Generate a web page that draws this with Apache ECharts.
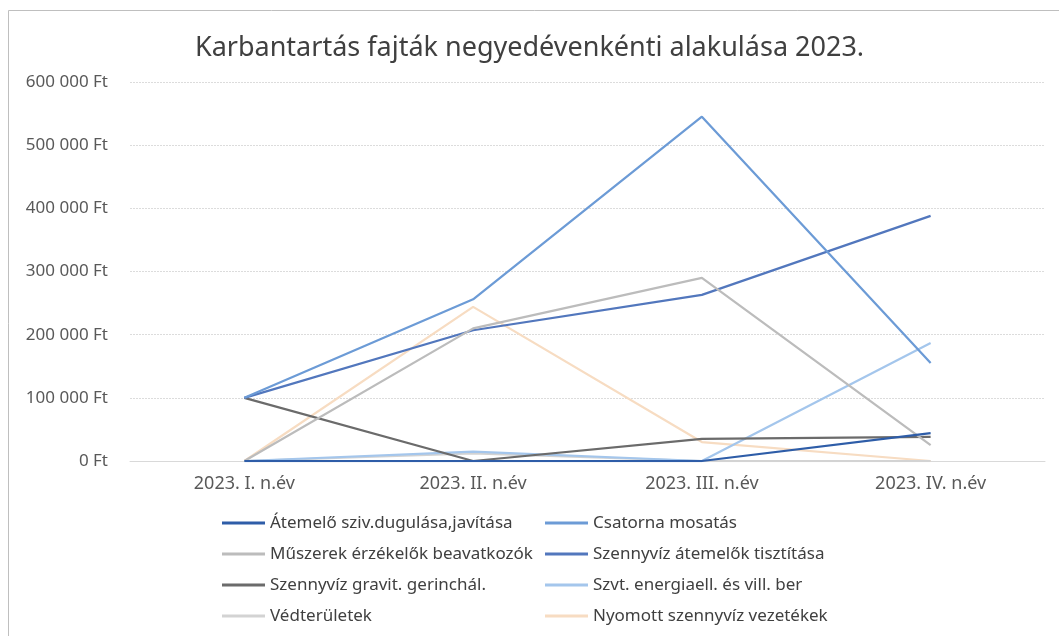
<!DOCTYPE html>
<html>
<head>
<meta charset="utf-8">
<script src="https://cdn.jsdelivr.net/npm/echarts@6/dist/echarts.min.js"></script>
<style>
html, body { margin: 0; padding: 0; background: #fff; }
#chart { width: 1059px; height: 636px; }
</style>
</head>
<body>
<div id="chart"></div>
<script>
var quarters = ['2023. I. n.év', '2023. II. n.év', '2023. III. n.év', '2023. IV. n.év'];

var seriesNames = [
    'Átemelő sziv.dugulása,javítása',
    'Csatorna mosatás',
    'Műszerek érzékelők beavatkozók',
    'Szennyvíz átemelők tisztítása',
    'Szennyvíz gravit. gerinchál.',
    'Szvt. energiaell. és vill. ber',
    'Védterületek',
    'Nyomott szennyvíz vezetékek'
];

var atemeloDugulas = [0, 0, 0, 44000];
var csatornaMosatas = [100000, 256000, 545000, 155000];
var muszerek = [0, 210000, 290000, 25000];
var atemelokTisztitasa = [100000, 207000, 263000, 388000];
var gravitGerinc = [100000, 0, 35000, 38000];
var energiaell = [0, 15000, 0, 187000];
var vedteruletek = [0, 12000, 0, 0];
var nyomottVezetekek = [0, 244000, 30000, 0];

var yTicks = [0, 100000, 200000, 300000, 400000, 500000, 600000];

var seriesData = [atemeloDugulas, csatornaMosatas, muszerek, atemelokTisztitasa,
    gravitGerinc, energiaell, vedteruletek, nyomottVezetekek];
var colors = ['#2e5da8', '#6c9bd6', '#bcbcbc', '#5277bd', '#6b6b6b', '#a4c6ec', '#d3d3d3', '#f7dcc2'];

// 600000 -> "600 000 Ft"
function ftLabel(v) {
    return String(v).replace(/\B(?=(\d{3})+(?!\d))/g, ' ') + ' Ft';
}

var font = '"Noto Sans", "Open Sans", sans-serif';

var myChart = echarts.init(document.getElementById('chart'));

var series = [];
for (var i = 0; i < seriesNames.length; i++) {
    series.push({
        name: seriesNames[i],
        type: 'line',
        data: seriesData[i],
        showSymbol: false,
        symbol: 'none',
        z: 10 - i,
        lineStyle: { width: 2.25, color: colors[i] },
        itemStyle: { color: colors[i] }
    });
}

var option = {
    backgroundColor: '#fff',
    animation: false,
    color: colors,
    title: {
        text: 'Karbantartás fajták negyedévenkénti alakulása 2023.',
        left: 'center',
        top: 30,
        textStyle: { fontFamily: font, fontSize: 27, fontWeight: 'normal', color: '#404040' }
    },
    graphic: [{
        type: 'rect',
        shape: { x: 8.5, y: 10.5, width: 1070, height: 700 },
        style: { fill: 'none', stroke: '#bfbfbf', lineWidth: 1 },
        silent: true
    }],
    grid: { left: 130, right: 14, top: 82, bottom: 175 },
    legend: {
        left: 217,
        top: 504,
        width: 680,
        itemGap: 3,
        itemWidth: 43,
        itemHeight: 3,
        icon: 'rect',
        textStyle: {
            fontFamily: font, fontSize: 17, color: '#404040',
            width: 272, lineHeight: 28, overflow: 'none'
        },
        data: seriesNames
    },
    xAxis: {
        type: 'category',
        data: quarters,
        boundaryGap: true,
        axisTick: { show: false },
        axisLine: { lineStyle: { color: '#d9d9d9', width: 1 } },
        axisLabel: { fontFamily: font, fontSize: 18, color: '#595959', margin: 14 }
    },
    yAxis: {
        type: 'value',
        min: yTicks[0],
        max: yTicks[yTicks.length - 1],
        interval: yTicks[1] - yTicks[0],
        axisLine: { show: false },
        axisTick: { show: false },
        splitLine: { lineStyle: { color: '#dcdcdc', width: 1, type: [2, 1] } },
        axisLabel: { fontFamily: font, fontSize: 17, color: '#595959', margin: 22, formatter: ftLabel }
    },
    series: series
};

myChart.setOption(option);
</script>
</body>
</html>
